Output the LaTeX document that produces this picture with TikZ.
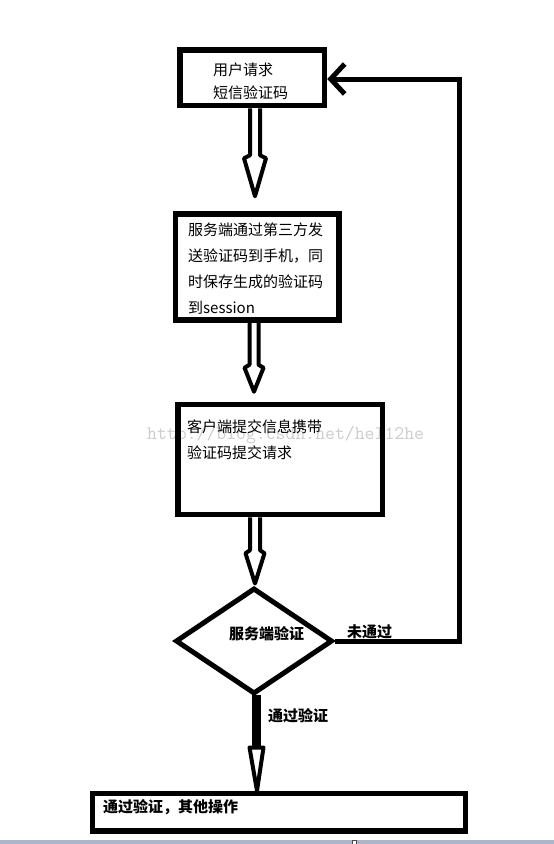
\documentclass[tikz,border=0pt]{standalone}
\usepackage{fontspec}
\newfontfamily\cjk{Noto Sans CJK SC}
\usetikzlibrary{shapes.geometric,arrows.meta,calc}
\definecolor{stripcol}{RGB}{172,182,202}
\newcommand\harrow[5]{% #1 start, #2 tip, #3 shaft length, #4 half gap, #5 head half width
  \draw[hollow] ($(#1)+(-#4,0)$) -- ($(#1)+(-#4,#3)$) -- ($(#1)+(-#5,#3+3)$) -- (#2)
    -- ($(#1)+(#5,#3+3)$) -- ($(#1)+(#4,#3)$) -- ($(#1)+(#4,0)$);}
\begin{document}
\begin{tikzpicture}[x=1pt,y=-1pt,
  box/.style={draw, rectangle, line width=5.5pt, inner sep=0pt},
  txt/.style={anchor=west, inner sep=0pt, text height=13.2pt, text depth=1.8pt,
    font=\cjk\fontsize{15}{18}\selectfont},
  btxt/.style={txt, font=\cjk\bfseries\fontsize{15}{18}\selectfont},
  conn/.style={line width=5pt},
  hollow/.style={draw, line width=4pt, line join=round}]
\fill[white] (0,0) rectangle (554,844);
\useasboundingbox (0,0) rectangle (554,844);

% watermark
\node[anchor=base west, inner sep=0pt, text=gray!40,
  font=\ttfamily\fontsize{19.2}{21}\selectfont] (wm) at (147,439) {http://blog.csdn.net/hel12he};

% boxes
\node[box, minimum width=144.5pt, minimum height=55.5pt] (b1) at (252.25,77.75) {};
\node[box, minimum width=163.5pt, minimum height=106pt] (b2) at (257.25,267) {};
\node[box, minimum width=204.5pt, minimum height=110pt] (b3) at (280.25,459.5) {};
\node[draw, diamond, line width=5pt, inner sep=0pt, minimum width=157pt, minimum height=106pt] (d) at (254,641) {};
\node[box, minimum width=373pt, minimum height=37.5pt] (b5) at (279,812.25) {};

% texts
\node[txt] (t1a) at (213,70) {用户请求};
\node[txt] (t1b) at (213,93) {短信验证码};
\node[txt] (t2a) at (188,230) {服务端通过第三方发};
\node[txt] (t2b) at (188,256) {送验证码到手机，同};
\node[txt] (t2c) at (188,282) {时保存生成的验证码};
\node[txt] (t2d) at (188,308) {到session};
\node[txt] (t3a) at (187,427) {客户端提交信息携带};
\node[txt] (t3b) at (187,453) {验证码提交请求};
\node[btxt] (td) at (229,634) {服务端验证};
\node[btxt] (tno) at (347,632) {未通过};
\node[btxt] (tyes) at (268,716) {通过验证};
\node[btxt] (t5) at (103,807) {通过验证，其他操作};

% hollow arrows
\coordinate (s1) at ($(b1.south)+(2.75,0)$);
\coordinate (e1) at ($(b2.north)+(-2.25,-15)$);
\harrow{s1}{e1}{47}{5}{11}
\coordinate (s2) at ($(b2.south)+(-3.25,0)$);
\coordinate (e2) at ($(b3.north)+(-26.25,-10)$);
\harrow{s2}{e2}{42}{4.5}{9.5}
\coordinate (s3) at ($(b3.south)+(-25.25,0)$);
\coordinate (e3) at ($(d.north)+(1,-2)$);
\harrow{s3}{e3}{33}{5}{9.5}

% thick arrow to last box
\coordinate (s4) at ($(d.south)+(2,-2)$);
\draw[line width=9pt] (s4) -- ($(s4)+(0,53)$) coordinate (h4);
\draw[hollow, fill=white] ($(h4)+(-6.5,0)$) -- ($(b5.north)+(-22,0)$) -- ($(h4)+(7.5,0)$) -- cycle;

% feedback line
\coordinate (r) at (459,0);
\coordinate (b1e) at ($(b1.east)+(0,1.25)$);
\draw[conn, -{Straight Barb[length=14pt,width=30pt]}] (d.east) -| (r |- b1e) -- (b1e);

% bottom strip
\fill[stripcol] (0,840) rectangle (554,844);
\draw[gray!60!black, line width=1pt, fill=white] (352.5,840.5) rectangle (356.5,844);
\end{tikzpicture}
\end{document}
